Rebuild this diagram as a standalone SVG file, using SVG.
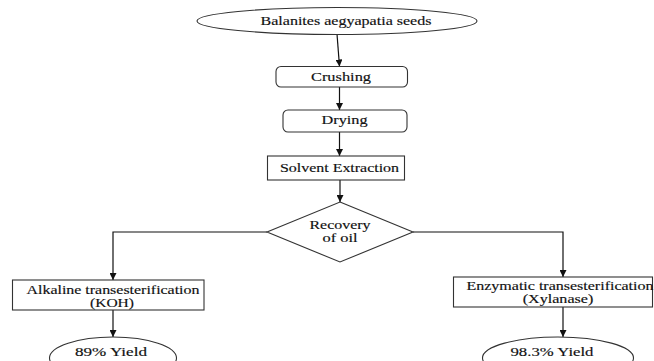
<svg xmlns="http://www.w3.org/2000/svg" width="654" height="361" viewBox="0 0 654 361">
<defs>
<style>
.shape{fill:#fff;stroke:#333;stroke-width:1.1}
.conn{fill:none;stroke:#111;stroke-width:1.2}
.t{font-family:'Liberation Serif','Times New Roman',serif;font-size:12px;fill:#111;stroke:#111;stroke-width:0.15;text-anchor:middle}
</style>
<marker id="ah" viewBox="0 0 10 10" refX="10" refY="5" markerWidth="7" markerHeight="7" markerUnits="userSpaceOnUse" orient="auto">
<path d="M0,0 L10,5 L0,10 z" fill="#111"/>
</marker>
</defs>
<rect width="654" height="361" fill="#fff"/>
<g id="connectors">
<path class="conn" d="M337,34 L339.5,66.5" marker-end="url(#ah)"/>
<path class="conn" d="M339.5,87 L339.5,110" marker-end="url(#ah)"/>
<path class="conn" d="M339.5,132 L339.5,156" marker-end="url(#ah)"/>
<path class="conn" d="M340,180 L340,202" marker-end="url(#ah)"/>
<path class="conn" d="M267,232 L113,232 L113,280" marker-end="url(#ah)"/>
<path class="conn" d="M413,232 L563,232 L563,277" marker-end="url(#ah)"/>
<path class="conn" d="M113,310 L113,337" marker-end="url(#ah)"/>
<path class="conn" d="M563,307 L563,337" marker-end="url(#ah)"/>
</g>
<g id="seeds">
<ellipse class="shape" cx="337" cy="21" rx="140" ry="13.5"/>
<text class="t" x="346" y="25" textLength="171" lengthAdjust="spacingAndGlyphs">Balanites aegyapatia seeds</text>
</g>
<g id="crushing">
<rect class="shape" x="276" y="66.5" width="131.5" height="20.5" rx="5"/>
<text class="t" x="341" y="81" textLength="60" lengthAdjust="spacingAndGlyphs">Crushing</text>
</g>
<g id="drying">
<rect class="shape" x="283" y="110" width="124" height="22" rx="5"/>
<text class="t" x="344.5" y="124" textLength="46" lengthAdjust="spacingAndGlyphs">Drying</text>
</g>
<g id="solvent">
<rect class="shape" x="267.5" y="156" width="137" height="24"/>
<text class="t" x="339.5" y="172" textLength="119" lengthAdjust="spacingAndGlyphs">Solvent Extraction</text>
</g>
<g id="recovery">
<polygon class="shape" points="340,202 413,232 340,262 267,232"/>
<text class="t" x="340" y="228.5" textLength="61" lengthAdjust="spacingAndGlyphs">Recovery</text>
<text class="t" x="340" y="242" textLength="35" lengthAdjust="spacingAndGlyphs">of oil</text>
</g>
<g id="alkaline">
<rect class="shape" x="12.5" y="280" width="191.5" height="30"/>
<text class="t" x="113" y="293.5" textLength="173" lengthAdjust="spacingAndGlyphs">Alkaline transesterification</text>
<text class="t" x="112" y="307" textLength="44" lengthAdjust="spacingAndGlyphs">(KOH)</text>
</g>
<g id="enzymatic">
<rect class="shape" x="453.5" y="277" width="199" height="30"/>
<text class="t" x="560" y="289.5" textLength="187" lengthAdjust="spacingAndGlyphs">Enzymatic transesterification</text>
<text class="t" x="558" y="303" textLength="70.5" lengthAdjust="spacingAndGlyphs">(Xylanase)</text>
</g>
<g id="yield89">
<ellipse class="shape" cx="113" cy="358" rx="63.5" ry="21"/>
<text class="t" x="111" y="355.5" textLength="72" lengthAdjust="spacingAndGlyphs">89% Yield</text>
</g>
<g id="yield98">
<ellipse class="shape" cx="558" cy="358" rx="75.5" ry="21"/>
<text class="t" x="552" y="356" textLength="83" lengthAdjust="spacingAndGlyphs">98.3% Yield</text>
</g>
</svg>
